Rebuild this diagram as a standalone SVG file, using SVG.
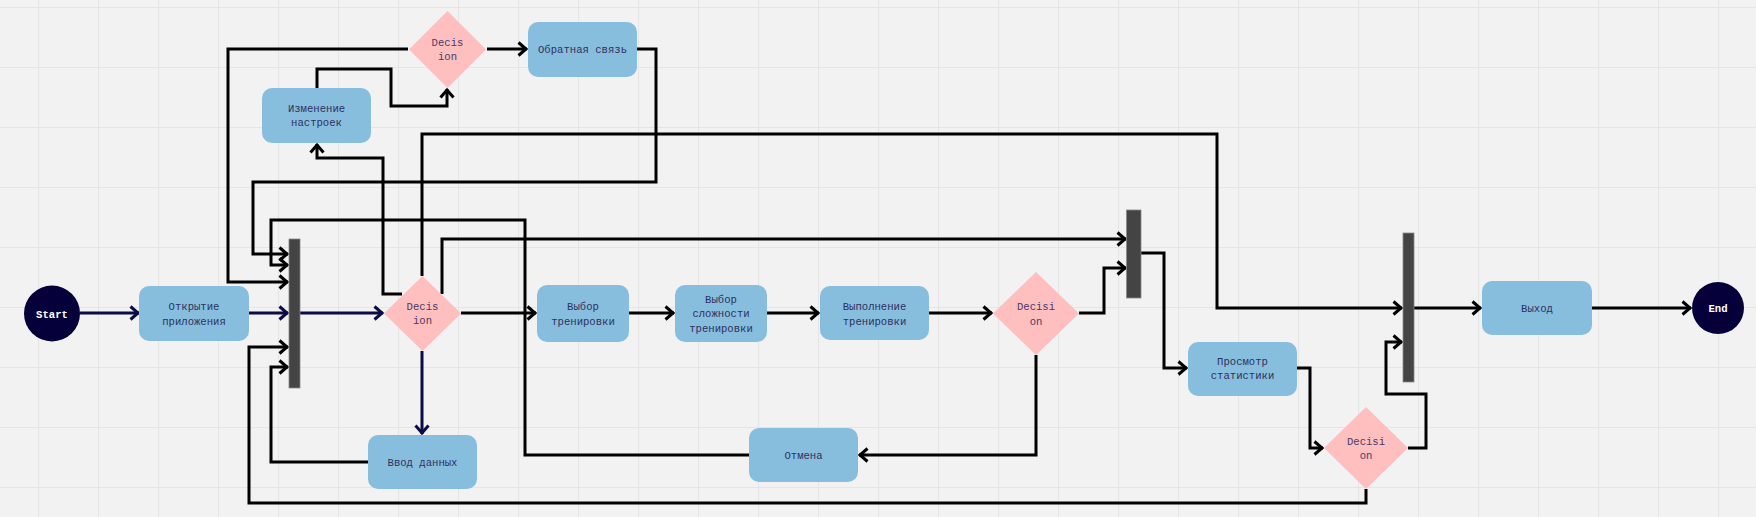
<svg xmlns="http://www.w3.org/2000/svg" width="1756" height="517" viewBox="0 0 1756 517">
<defs>
<pattern id="grid" x="38" y="7" width="60" height="60" patternUnits="userSpaceOnUse">
<path d="M0.5,0 V60 M0,0.5 H60" fill="none" stroke="#e5e5e5" stroke-width="1.2"/>
</pattern>
<marker id="ab" viewBox="-12 -9 14 18" refX="0" refY="0" markerWidth="14" markerHeight="18" markerUnits="userSpaceOnUse" orient="auto">
<path d="M-8.5,-6.5 L-1,0 L-8.5,6.5" fill="none" stroke="#000" stroke-width="3"/>
</marker>
<marker id="an" viewBox="-12 -9 14 18" refX="0" refY="0" markerWidth="14" markerHeight="18" markerUnits="userSpaceOnUse" orient="auto">
<path d="M-8.5,-6.5 L-1,0 L-8.5,6.5" fill="none" stroke="#0b0b45" stroke-width="3"/>
</marker>
</defs>
<style>
.box{fill:#88bedd;}
.dia{fill:#ffbfbf;}
.bar{fill:#444444;stroke:#8a8a8a;stroke-width:0.8;}
.term{fill:#05003a;}
.t{font-family:"Liberation Mono","DejaVu Sans Mono",monospace;font-size:10.6px;fill:#2e3060;text-anchor:middle;}
.td{font-family:"Liberation Mono","DejaVu Sans Mono",monospace;font-size:10.6px;fill:#4a3a66;text-anchor:middle;}
.tw{font-family:"Liberation Mono","DejaVu Sans Mono",monospace;font-size:10.6px;fill:#ffffff;text-anchor:middle;font-weight:bold;}
.c{fill:none;stroke:#000;stroke-width:3;marker-end:url(#ab);}
.cn{fill:none;stroke:#0b0b45;stroke-width:3;marker-end:url(#an);}
.cx{fill:none;stroke:#000;stroke-width:3;}
</style>
<rect width="1756" height="517" fill="#f2f2f2"/>
<rect width="1756" height="517" fill="url(#grid)"/>

<g id="connectors">
<path class="cn" d="M80,313 H139"/>
<path class="cn" d="M249,313 H288"/>
<path class="cn" d="M300,313 H383"/>
<path class="cn" d="M422,351 V434"/>
<path class="c" d="M461,313 H536"/>
<path class="c" d="M629,313 H674"/>
<path class="c" d="M767,313 H819"/>
<path class="c" d="M929,313 H992"/>
<path class="c" d="M1079,313 H1104 V268 H1126"/>
<path class="c" d="M442,294 V239 H1126"/>
<path class="c" d="M1141,253 H1164 V368 H1187"/>
<path class="c" d="M1297,368 H1310 V448 H1323"/>
<path class="c" d="M1408,448 H1426 V394 H1386 V342 H1402"/>
<path class="c" d="M1366,489 V503 H249 V347 H288"/>
<path class="c" d="M1036,355 V455 H859"/>
<path class="c" d="M749,455 H525 V220 H271 V265 H288"/>
<path class="c" d="M368,462 H271 V367 H288"/>
<path class="c" d="M422,276 V134 H1217 V308 H1402"/>
<path class="c" d="M1414,308 H1481"/>
<path class="c" d="M1592,308 H1691"/>
<path class="c" d="M402,294 H383 V158 H317 V144"/>
<path class="c" d="M317,88 V69 H391 V106 H447 V89"/>
<path class="c" d="M408,49 H228 V282 H288"/>
<path class="c" d="M487,49 H527"/>
<path class="c" d="M637,49 H656 V182 H253 V254 H288"/>
</g>

<g id="start"><circle class="term" cx="52" cy="313.5" r="28"/><text class="tw" x="52" y="317.5">Start</text></g>
<g id="open_app"><rect class="box" x="139" y="286" width="110" height="55" rx="10"/><text class="t" x="194" y="310">Открытие</text><text class="t" x="194" y="324.5">приложения</text></g>
<g id="bar1"><rect class="bar" x="289" y="239" width="11" height="149"/></g>
<g id="decision1"><polygon class="dia" points="422.5,276 461,313.5 422.5,351 384,313.5"/><text class="td" x="422.5" y="309.5">Decis</text><text class="td" x="422.5" y="324">ion</text></g>
<g id="decision2"><polygon class="dia" points="447.5,11 486,49.5 447.5,88 409,49.5"/><text class="td" x="447.5" y="45.5">Decis</text><text class="td" x="447.5" y="60">ion</text></g>
<g id="feedback"><rect class="box" x="528" y="22" width="109" height="55" rx="10"/><text class="t" x="582.5" y="53">Обратная связь</text></g>
<g id="settings"><rect class="box" x="262" y="88" width="109" height="55" rx="10"/><text class="t" x="316.5" y="111.5">Изменение</text><text class="t" x="316.5" y="126">настроек</text></g>
<g id="input"><rect class="box" x="368" y="435" width="109" height="54" rx="10"/><text class="t" x="422.5" y="466">Ввод данных</text></g>
<g id="choose_training"><rect class="box" x="537" y="285" width="92" height="57" rx="10"/><text class="t" x="583" y="310">Выбор</text><text class="t" x="583" y="324.5">тренировки</text></g>
<g id="choose_difficulty"><rect class="box" x="675" y="285" width="92" height="57" rx="10"/><text class="t" x="721" y="302.5">Выбор</text><text class="t" x="721" y="317">сложности</text><text class="t" x="721" y="331.5">тренировки</text></g>
<g id="do_training"><rect class="box" x="820" y="286" width="109" height="54" rx="10"/><text class="t" x="874.5" y="310">Выполнение</text><text class="t" x="874.5" y="324.5">тренировки</text></g>
<g id="decision3"><polygon class="dia" points="1036,272 1079,313.5 1036,355 993,313.5"/><text class="td" x="1036" y="310">Decisi</text><text class="td" x="1036" y="324.5">on</text></g>
<g id="cancel"><rect class="box" x="749" y="428" width="109" height="54" rx="10"/><text class="t" x="803.5" y="459">Отмена</text></g>
<g id="bar2"><rect class="bar" x="1126.5" y="210" width="14.5" height="88"/></g>
<g id="stats"><rect class="box" x="1188" y="342" width="109" height="54" rx="10"/><text class="t" x="1242.5" y="364.5">Просмотр</text><text class="t" x="1242.5" y="379">статистики</text></g>
<g id="decision4"><polygon class="dia" points="1366,407 1408,448 1366,489 1324,448"/><text class="td" x="1366" y="444.5">Decisi</text><text class="td" x="1366" y="459">on</text></g>
<g id="bar3"><rect class="bar" x="1403" y="233" width="11" height="149"/></g>
<g id="exit"><rect class="box" x="1482" y="281" width="110" height="54" rx="10"/><text class="t" x="1537" y="311.5">Выход</text></g>
<g id="end"><circle class="term" cx="1718" cy="308" r="26"/><text class="tw" x="1718" y="312">End</text></g>
</svg>
